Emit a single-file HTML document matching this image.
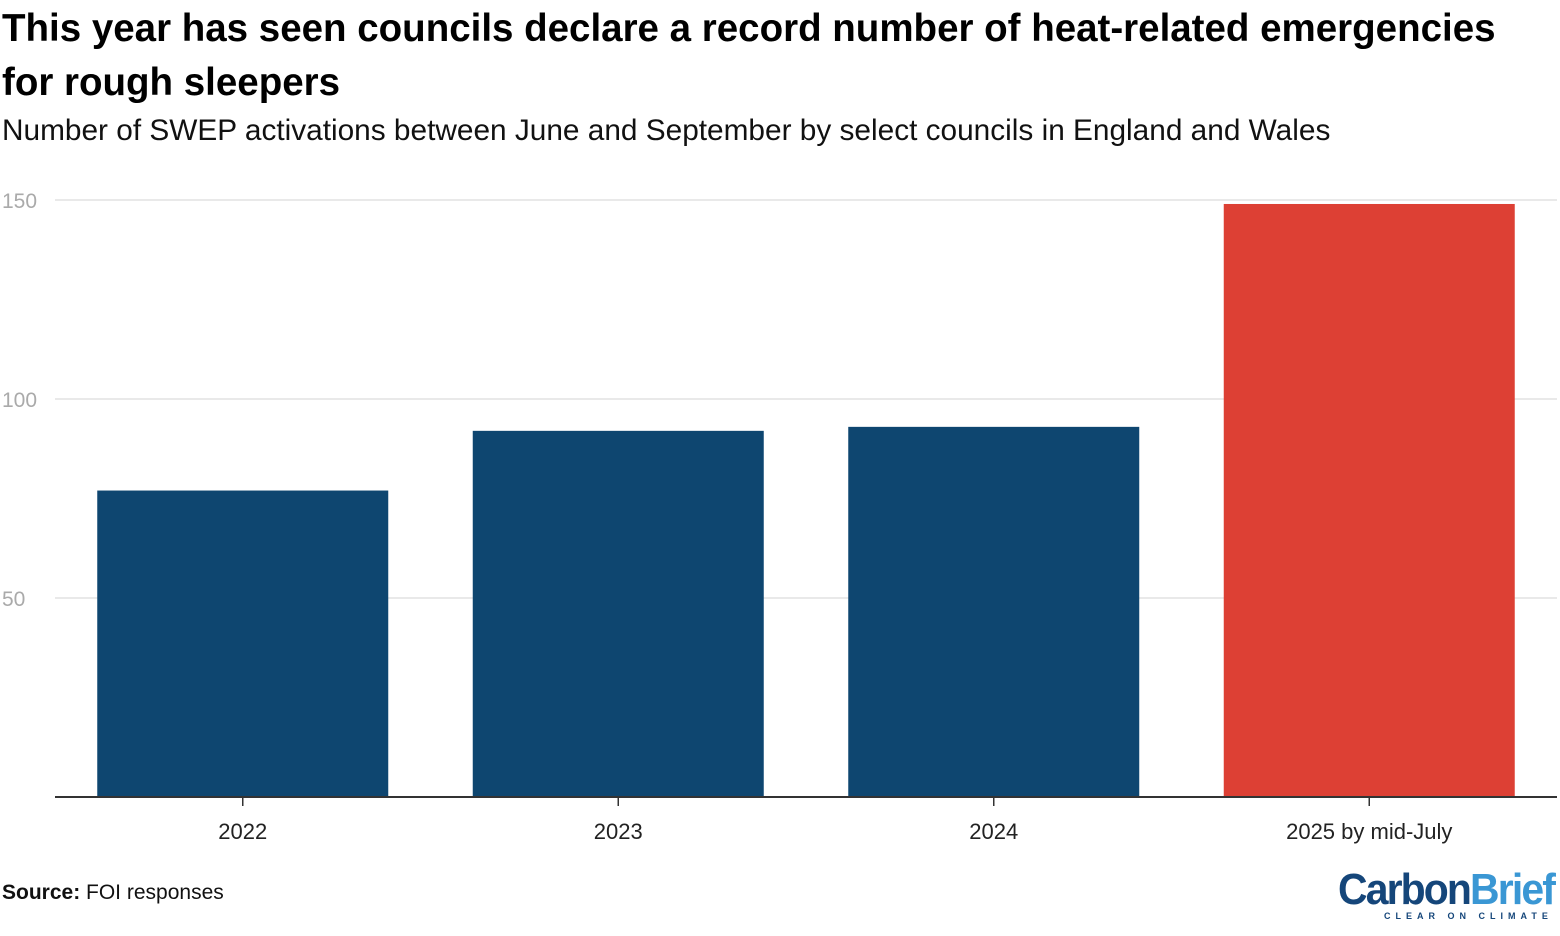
<!DOCTYPE html>
<html><head><meta charset="utf-8"><style>
body{margin:0;width:1560px;height:936px;background:#fff;font-family:"Liberation Sans",sans-serif;overflow:hidden;position:relative}
.t{position:absolute;left:2px;margin:0}
</style></head><body>
<h1 class="t" style="top:2px;font-size:38.5px;line-height:54px;font-weight:bold;letter-spacing:0;color:#000;width:1530px">This year has seen councils declare a record number of heat-related emergencies for rough sleepers</h1>
<div class="t" style="top:114px;font-size:29.8px;color:#111;white-space:nowrap">Number of SWEP activations between June and September by select councils in England and Wales</div>
<svg id="chart" width="1560" height="936" style="position:absolute;left:0;top:0"></svg>
<div class="t" style="top:881px;font-size:21px;color:#111"><b>Source:</b> FOI responses</div>
<div style="position:absolute;left:1338px;top:866px;width:222px;white-space:nowrap">
<div style="font-size:44px;font-weight:bold;letter-spacing:-2px;line-height:48px;transform:scaleX(0.93);transform-origin:left"><span style="color:#15467a">Carbon</span><span style="color:#3a97d4">Brief</span></div>
<div style="font-size:9px;letter-spacing:5px;color:#15467a;margin-left:46px;margin-top:-3px;font-weight:bold">CLEAR ON CLIMATE</div>
</div>
<script>
const categories=["2022","2023","2024","2025 by mid-July"];
const values=[77,92,93,149];
const colors=["#0e4670","#0e4670","#0e4670","#dd4034"];
const ticks=[50,100,150];
const NS="http://www.w3.org/2000/svg";
const svg=document.getElementById('chart');
const x0=55,x1=1557,y0=797,yScale=v=>y0-v*(797-200)/150;
const band=(x1-x0)/categories.length,bw=291;
function mk(t,a){const e=document.createElementNS(NS,t);for(const k in a)e.setAttribute(k,a[k]);svg.appendChild(e);return e;}
ticks.forEach(t=>{
const l=mk('line',{x1:x0,x2:x1,y1:yScale(t),y2:yScale(t),stroke:'#e2e2e2','stroke-width':1.5});


const tx=mk('text',{x:2,y:yScale(t)+8,'font-size':21,fill:'#aaa','font-family':'Liberation Sans, sans-serif'});
tx.textContent=t;


});
categories.forEach((c,i)=>{
const cx=x0+band*(i+0.5);
const r=mk('rect',{x:cx-bw/2,y:yScale(values[i]),width:bw,height:y0-yScale(values[i]),fill:colors[i]});


const tk=mk('line',{x1:cx,x2:cx,y1:y0,y2:y0+9,stroke:'#333','stroke-width':1.5});


const tx=mk('text',{x:cx,y:839,'font-size':22,fill:'#222','text-anchor':'middle','font-family':'Liberation Sans, sans-serif'});
tx.textContent=c;


});
const ax=mk('line',{x1:x0,x2:x1,y1:y0,y2:y0,stroke:'#333','stroke-width':2});


</script>
</body></html>
